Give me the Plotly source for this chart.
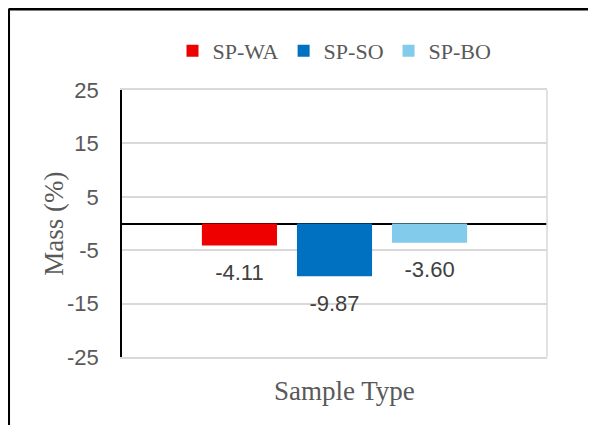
import plotly.graph_objects as go

categories = ["Sample Type"]
series_names = ["SP-WA", "SP-SO", "SP-BO"]
series_values = [-4.11, -9.87, -3.60]
series_colors = ["#ee0000", "#0070c0", "#82cbeb"]
y_ticks = [-25, -15, -5, 5, 15, 25]

SERIF = "Liberation Serif, Times New Roman, serif"
SANS = "Liberation Sans, Arial, sans-serif"

fig = go.Figure()
for name, val, col in zip(series_names, series_values, series_colors):
    fig.add_trace(go.Bar(
        x=categories, y=[val], name=name, marker=dict(color=col, line=dict(width=0)),
        offsetgroup=name, hoverinfo="skip",
    ))
for name, val in zip(series_names, series_values):
    fig.add_trace(go.Scatter(
        x=categories, y=[val], mode="markers+text", text=[f"{val:.2f}"],
        textposition="bottom center", offsetgroup=name, showlegend=False,
        marker=dict(size=27, color="rgba(0,0,0,0)"),
        textfont=dict(family=SANS, size=22, color="#404040"),
        hoverinfo="skip", cliponaxis=False,
    ))

# page body has an 8px default margin; figure is sized to fit the 596x425 window
fig.update_layout(
    width=588, height=417,
    margin=dict(l=114, r=49, t=82, b=68),
    paper_bgcolor="white", plot_bgcolor="white",
    barmode="group", bargap=0.329, bargroupgap=0.21,
    scattermode="group", scattergap=0.329,
    showlegend=True,
    legend=dict(orientation="h", x=0.5, xanchor="center", y=1.146, yanchor="middle",
                font=dict(family=SERIF, size=22, color="#595959"),
                itemwidth=30, traceorder="normal"),
    xaxis=dict(showticklabels=False, showgrid=False, showline=True, linecolor="#d9d9d9",
               linewidth=1.5, mirror=True, zeroline=False, ticks=""),
    yaxis=dict(range=[-25, 25], tickvals=y_ticks, ticktext=[str(v) for v in y_ticks],
               showgrid=True, gridcolor="#d9d9d9", gridwidth=1.5,
               zeroline=True, zerolinecolor="black", zerolinewidth=2,
               showline=True, linecolor="black", linewidth=1.5,
               ticks="", ticklabelstandoff=17,
               tickfont=dict(family=SANS, size=22, color="#595959")),
    shapes=[
        dict(type="line", xref="x domain", yref="y domain", x0=1, x1=1, y0=0, y1=1,
             line=dict(color="#d9d9d9", width=1.5)),
        # outer frame (left and top edges visible in the window), kept inside the figure
        dict(type="line", xref="paper", yref="paper", x0=-0.267, x1=-0.267, y0=-0.2547, y1=1.3034,
             line=dict(color="black", width=3)),
        dict(type="line", xref="paper", yref="paper", x0=-0.267, x1=1.1153, y0=1.3034, y1=1.3034,
             line=dict(color="black", width=3)),
    ],
    annotations=[
        dict(text="Sample Type", xref="paper", yref="paper", x=0.5235, y=-0.127,
             xanchor="center", yanchor="middle", showarrow=False,
             font=dict(family=SERIF, size=27, color="#595959")),
        dict(text="Mass (%)", xref="paper", yref="paper", x=-0.162, y=0.5,
             xanchor="center", yanchor="middle", showarrow=False, textangle=-90,
             font=dict(family=SERIF, size=27, color="#595959")),
    ],
)

fig.write_html("out.html")
